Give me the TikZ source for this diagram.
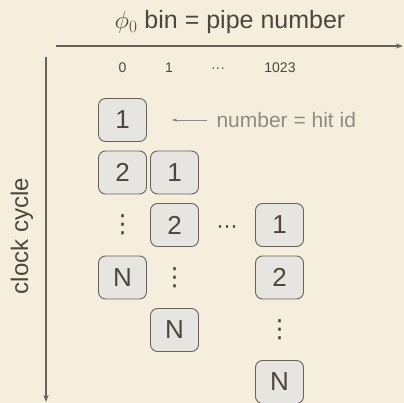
\documentclass[tikz,border=0pt]{standalone}
\usepackage{fontspec}
\setmainfont{Liberation Sans}
\newfontfamily\symfont{DejaVu Sans}
\usetikzlibrary{arrows.meta}
\definecolor{paper}{HTML}{F5EEDC}
\definecolor{ink}{HTML}{4D463F}
\definecolor{rim}{HTML}{6B6257}
\definecolor{cellfill}{HTML}{E6E5E2}
\definecolor{note}{HTML}{8E8A84}
\tikzset{
  cell/.style={draw=rim, fill=cellfill, line width=0.9pt, rounded corners=7pt,
    minimum width=48pt, minimum height=43pt, inner sep=0pt,
    text=ink, font=\fontsize{26}{26}\selectfont},
  axis/.style={draw=rim, line width=1.2pt, -{Stealth[length=7pt,width=5pt]}},
  collabel/.style={text=ink, font=\fontsize{14}{14}\selectfont},
  vdots/.style={text=ink, font=\symfont\fontsize{25}{25}\selectfont, inner sep=0pt},
  hdots/.style={text=ink, font=\symfont\fontsize{21}{21}\selectfont, inner sep=0pt},
}
\begin{document}
\begin{tikzpicture}[x=1pt,y=-1pt]
  \fill[paper] (0,0) rectangle (404,403);
  \useasboundingbox (0,0) rectangle (404,403);

  % axes
  \coordinate (hx0) at (56,46);
  \coordinate (hx1) at (403,46);
  \coordinate (vy0) at (46,57);
  \coordinate (vy1) at (46,402);
  \draw[axis] (hx0) -- (hx1);
  \draw[axis] (vy0) -- (vy1);
  \node[text=ink, font=\fontsize{25}{25}\selectfont] (title) at (230,22) {$\phi_0$ bin = pipe number};
  \node[text=ink, font=\fontsize{24}{24}\selectfont, rotate=90] (clock) at (22,236) {clock cycle};

  % pipe numbers
  \node[collabel] (c0) at (122.5,68) {0};
  \node[collabel] (c1) at (169,68) {1};
  \node[collabel] (cd) at (218,70) {···};
  \node[collabel] (c1023) at (280,68) {1023};

  % pipe 0
  \node[cell] (a1) at (122.5,120) {1};
  \node[cell] (a2) at (122.5,172.5) {2};
  \node[vdots] (ad) at (122.5,225) {⋮};
  \node[cell] (aN) at (122.5,277.5) {N};

  % pipe 1
  \node[cell] (b1) at (174.5,172.5) {1};
  \node[cell] (b2) at (174.5,225) {2};
  \node[vdots] (bd) at (174.5,277.5) {⋮};
  \node[cell] (bN) at (174.5,330) {N};

  % gap between pipes
  \node[hdots] (hd) at (227,230) {⋯};

  % pipe 1023
  \node[cell] (z1) at (279.5,225) {1};
  \node[cell] (z2) at (279.5,277.5) {2};
  \node[vdots] (zd) at (279.5,330) {⋮};
  \node[cell] (zN) at (279.5,382) {N};

  % annotation
  \node[text=note, font=\fontsize{21}{21}\selectfont, anchor=west] (hitid) at (213,120) {number = hit id};
  \coordinate (tip) at (172,120);
  \draw[draw=note, line width=0.8pt, -{Stealth[length=5pt,width=3.5pt]}] (hitid.west) ++(-6,0) -- (tip);
\end{tikzpicture}
\end{document}
